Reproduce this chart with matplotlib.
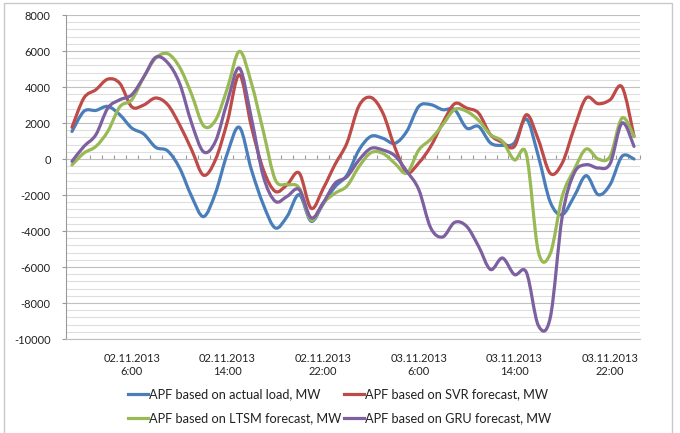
import numpy as np
import matplotlib.pyplot as plt
from matplotlib.path import Path
from matplotlib.patches import PathPatch, Rectangle
from matplotlib.lines import Line2D

plt.rcParams['font.family'] = ['Lato', 'DejaVu Sans']
plt.rcParams['axes.unicode_minus'] = False

# hourly APF values, 02.11.2013 1:00 ... 04.11.2013 0:00
hours = np.arange(48)
actual = [1530, 2650, 2700, 2920, 2460, 1720, 1390, 650, 450, -500, -2070, -3200,
          -1890, 330, 1760, -590, -2530, -3830, -3180, -1980, -3460, -2500, -1540, -890,
          500, 1260, 1150, 870, 1540, 2920, 3020, 2740, 2740, 1720, 1810, 890,
          760, 900, 2220, 150, -2400, -3090, -2070, -925, -1980, -1420, 150, 0]
svr = [1760, 3390, 3850, 4440, 4200, 2900, 3000, 3390, 3020, 1900, 520, -900,
       -40, 2090, 4680, 1810, -590, -1800, -1420, -780, -2740, -1650, -300, 900,
       2950, 3420, 2550, 650, -740, -220, 700, 2000, 3070, 2830, 2550, 1350,
       925, 700, 2460, 1070, -800, -220, 1720, 3390, 3070, 3290, 4000, 1260]
ltsm = [-330, 330, 700, 1540, 2900, 3290, 4550, 5600, 5850, 5100, 3600, 1850,
        2150, 3940, 5980, 4220, 1540, -1150, -1420, -1610, -3400, -2450, -1900, -1500,
        -425, 350, 310, -240, -780, 500, 1100, 1900, 2750, 2650, 2150, 1350,
        980, -50, 250, -5150, -5250, -2070, -590, 555, 0, 150, 2280, 1260]
gru = [-130, 700, 1350, 2830, 3290, 3570, 4550, 5650, 5350, 4200, 2000, 400,
       980, 3200, 5050, 2280, -960, -2350, -2070, -1700, -3270, -2440, -1350, -980,
       -55, 590, 500, 180, -685, -1700, -3830, -4330, -3520, -3740, -4850, -6140,
       -5500, -6420, -6300, -9250, -8800, -3180, -780, -315, -500, -260, 2000, 700]

tick_pos = [5, 13, 21, 29, 37, 45]
tick_labels = ['02.11.2013\n6:00', '02.11.2013\n14:00', '02.11.2013\n22:00',
               '03.11.2013\n6:00', '03.11.2013\n14:00', '03.11.2013\n22:00']

series = [
    ('APF based on actual load, MW', actual, '#4A7EBB'),
    ('APF based on SVR forecast, MW', svr, '#BE4B48'),
    ('APF based on LTSM forecast, MW', ltsm, '#98B954'),
    ('APF based on GRU forecast, MW', gru, '#7D60A0'),
]


def smooth_path(xs, ys):
    # Excel-like smoothed line: Catmull-Rom segments as cubic Bezier curves
    pts = np.column_stack([xs, ys]).astype(float)
    ext = np.vstack([pts[0], pts, pts[-1]])
    verts = [pts[0]]
    codes = [Path.MOVETO]
    for k in range(len(pts) - 1):
        p0, p1, p2, p3 = ext[k], ext[k + 1], ext[k + 2], ext[k + 3]
        verts += [p1 + (p2 - p0) / 6, p2 - (p3 - p1) / 6, p2]
        codes += [Path.CURVE4] * 3
    return Path(verts, codes)


fig = plt.figure(figsize=(6.8, 4.33), dpi=100)
ax = fig.add_axes([66 / 680, 1 - 339 / 433, 574 / 680, 324 / 433])

ax.set_xlim(-0.5, 47.5)
ax.set_ylim(-10000, 8000)
ax.set_yticks(np.arange(-10000, 8001, 2000))
ax.set_yticks(np.arange(-10000, 8001, 400), minor=True)
ax.grid(True, which='major', axis='y', color='#BFBFBF', lw=0.8)
ax.grid(True, which='minor', axis='y', color='#DEDEDE', lw=0.8)
ax.set_axisbelow(True)

for s in ['top', 'right']:
    ax.spines[s].set_visible(False)
ax.spines['left'].set_color('#9A9A9A')
ax.spines['bottom'].set_color('#BFBFBF')
ax.tick_params(axis='y', which='major', length=3, color='#9A9A9A', pad=8,
               labelsize=8, labelcolor='#222222')
ax.tick_params(axis='y', which='minor', length=0)

ax.set_xticks(tick_pos)
ax.set_xticklabels(tick_labels)
ax.tick_params(axis='x', which='both', length=0, pad=10, labelsize=8, labelcolor='#222222')

# horizontal axis line crossing at zero, ticks between categories
sec = ax.secondary_xaxis(10000 / 18000)
sec.set_xticks(np.arange(-0.5, 48, 1))
sec.tick_params(axis='x', direction='out', length=3, color='#9A9A9A', labelbottom=False,
                labeltop=False)
sec.spines['bottom'].set_color('#9A9A9A')
for s in ['top', 'left', 'right']:
    sec.spines[s].set_visible(False)

handles = []
for name, vals, col in series:
    ax.add_patch(PathPatch(smooth_path(hours, vals), fill=False, edgecolor=col,
                           lw=2.3, capstyle='round', joinstyle='round'))
    handles.append(Line2D([], [], color=col, lw=2.3, label=name))

# order so that rows read: actual | SVR, LTSM | GRU
order = [0, 2, 1, 3]
fig.legend([handles[i] for i in order], [series[i][0] for i in order],
           loc='upper left', bbox_to_anchor=(128 / 680, 1 - 388 / 433), ncol=2,
           frameon=False, fontsize=9.2, handlelength=1.55, handletextpad=0.1,
           columnspacing=0.2, labelspacing=0.95, borderpad=0, borderaxespad=0,
           labelcolor='#222222')

fig.add_artist(Rectangle((4 / 680, -0.05), 668 / 680, 1.05 - 3 / 433,
                         transform=fig.transFigure, fill=False,
                         edgecolor='#C8C8C8', lw=1))

fig.savefig('out.png', dpi=100)
